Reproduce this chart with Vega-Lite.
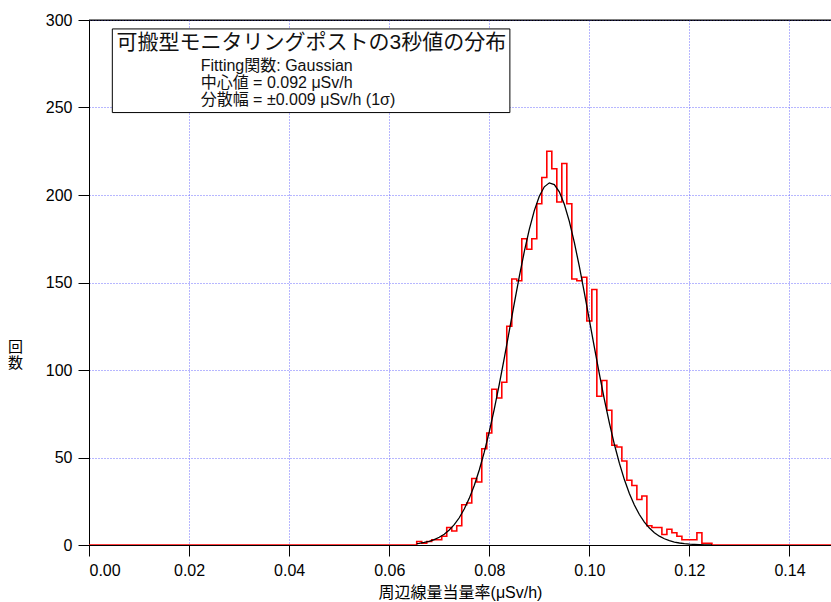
{
  "$schema": "https://vega.github.io/schema/vega-lite/v6.json",
  "width": 742,
  "height": 525,
  "autosize": {"type": "none"},
  "padding": {"left": 89, "top": 20, "right": 0, "bottom": 57},
  "background": "white",
  "datasets": {
    "hist": [
      {"rate": 0.0, "count": 0},
      {"rate": 0.065, "count": 0},
      {"rate": 0.066, "count": 2},
      {"rate": 0.067, "count": 1},
      {"rate": 0.068, "count": 2},
      {"rate": 0.069, "count": 3},
      {"rate": 0.070, "count": 3},
      {"rate": 0.071, "count": 5},
      {"rate": 0.072, "count": 10},
      {"rate": 0.073, "count": 8},
      {"rate": 0.074, "count": 11},
      {"rate": 0.075, "count": 23},
      {"rate": 0.076, "count": 24},
      {"rate": 0.077, "count": 38},
      {"rate": 0.078, "count": 36},
      {"rate": 0.079, "count": 55},
      {"rate": 0.080, "count": 64},
      {"rate": 0.081, "count": 89},
      {"rate": 0.082, "count": 84},
      {"rate": 0.083, "count": 93},
      {"rate": 0.084, "count": 125},
      {"rate": 0.085, "count": 152},
      {"rate": 0.086, "count": 151},
      {"rate": 0.087, "count": 175},
      {"rate": 0.088, "count": 169},
      {"rate": 0.089, "count": 175},
      {"rate": 0.090, "count": 195},
      {"rate": 0.091, "count": 210},
      {"rate": 0.092, "count": 225},
      {"rate": 0.093, "count": 215},
      {"rate": 0.094, "count": 196},
      {"rate": 0.095, "count": 218},
      {"rate": 0.096, "count": 195},
      {"rate": 0.097, "count": 152},
      {"rate": 0.098, "count": 151},
      {"rate": 0.099, "count": 153},
      {"rate": 0.100, "count": 128},
      {"rate": 0.101, "count": 146},
      {"rate": 0.102, "count": 85},
      {"rate": 0.103, "count": 94},
      {"rate": 0.104, "count": 77},
      {"rate": 0.105, "count": 57},
      {"rate": 0.106, "count": 56},
      {"rate": 0.107, "count": 48},
      {"rate": 0.108, "count": 37},
      {"rate": 0.109, "count": 34},
      {"rate": 0.110, "count": 26},
      {"rate": 0.111, "count": 28},
      {"rate": 0.112, "count": 11},
      {"rate": 0.113, "count": 10},
      {"rate": 0.114, "count": 10},
      {"rate": 0.115, "count": 6},
      {"rate": 0.116, "count": 9},
      {"rate": 0.117, "count": 7},
      {"rate": 0.118, "count": 5},
      {"rate": 0.119, "count": 3},
      {"rate": 0.120, "count": 3},
      {"rate": 0.121, "count": 3},
      {"rate": 0.122, "count": 7},
      {"rate": 0.123, "count": 1},
      {"rate": 0.124, "count": 1},
      {"rate": 0.125, "count": 0},
      {"rate": 0.150, "count": 0}
    ],
    "fit": [
      {"rate": 0.0655, "fit": 0.79},
      {"rate": 0.066, "fit": 0.97},
      {"rate": 0.067, "fit": 1.45},
      {"rate": 0.068, "fit": 2.13},
      {"rate": 0.069, "fit": 3.09},
      {"rate": 0.070, "fit": 4.41},
      {"rate": 0.071, "fit": 6.18},
      {"rate": 0.072, "fit": 8.54},
      {"rate": 0.073, "fit": 11.62},
      {"rate": 0.074, "fit": 15.56},
      {"rate": 0.075, "fit": 20.53},
      {"rate": 0.076, "fit": 26.65},
      {"rate": 0.077, "fit": 34.05},
      {"rate": 0.078, "fit": 42.85},
      {"rate": 0.079, "fit": 53.07},
      {"rate": 0.080, "fit": 64.71},
      {"rate": 0.081, "fit": 77.69},
      {"rate": 0.082, "fit": 91.83},
      {"rate": 0.083, "fit": 106.85},
      {"rate": 0.084, "fit": 122.42},
      {"rate": 0.085, "fit": 138.07},
      {"rate": 0.086, "fit": 153.30},
      {"rate": 0.087, "fit": 167.59},
      {"rate": 0.088, "fit": 180.36},
      {"rate": 0.089, "fit": 191.08},
      {"rate": 0.090, "fit": 199.32},
      {"rate": 0.091, "fit": 204.68},
      {"rate": 0.092, "fit": 206.94},
      {"rate": 0.093, "fit": 205.97},
      {"rate": 0.094, "fit": 201.83},
      {"rate": 0.095, "fit": 194.70},
      {"rate": 0.096, "fit": 184.92},
      {"rate": 0.097, "fit": 172.91},
      {"rate": 0.098, "fit": 159.16},
      {"rate": 0.099, "fit": 144.24},
      {"rate": 0.100, "fit": 128.69},
      {"rate": 0.101, "fit": 113.04},
      {"rate": 0.102, "fit": 97.75},
      {"rate": 0.103, "fit": 83.21},
      {"rate": 0.104, "fit": 69.76},
      {"rate": 0.105, "fit": 57.55},
      {"rate": 0.106, "fit": 46.76},
      {"rate": 0.107, "fit": 37.38},
      {"rate": 0.108, "fit": 29.43},
      {"rate": 0.109, "fit": 22.83},
      {"rate": 0.110, "fit": 17.41},
      {"rate": 0.111, "fit": 13.08},
      {"rate": 0.112, "fit": 9.68},
      {"rate": 0.113, "fit": 7.05},
      {"rate": 0.114, "fit": 5.05},
      {"rate": 0.115, "fit": 3.57},
      {"rate": 0.116, "fit": 2.48},
      {"rate": 0.117, "fit": 1.69},
      {"rate": 0.118, "fit": 1.14},
      {"rate": 0.119, "fit": 0.76},
      {"rate": 0.120, "fit": 0.49},
      {"rate": 0.121, "fit": 0.32},
      {"rate": 0.122, "fit": 0.20},
      {"rate": 0.123, "fit": 0.12},
      {"rate": 0.124, "fit": 0.07},
      {"rate": 0.1245, "fit": 0.06}
    ]
  },
  "layer": [
    {
      "data": {"values": [{"box": "legend"}]},
      "mark": {"type": "rect", "fill": "white", "stroke": "black", "strokeWidth": 1},
      "encoding": {
        "x": {"datum": 0.00466, "type": "quantitative", "scale": {"domain": [0, 0.1483], "nice": false, "zero": false}},
        "x2": {"datum": 0.08412},
        "y": {"datum": 294.9, "type": "quantitative", "scale": {"domain": [0, 300], "nice": false}},
        "y2": {"datum": 247.1}
      }
    },
    {
      "data": {"values": [{"label": "可搬型モニタリングポストの3秒値の分布"}]},
      "mark": {"type": "text", "align": "left", "baseline": "alphabetic", "fontSize": 21, "font": "Liberation Sans, Noto Sans CJK JP", "color": "#111111"},
      "encoding": {
        "x": {"datum": 0.0055, "type": "quantitative"},
        "y": {"datum": 283.4, "type": "quantitative"},
        "text": {"field": "label"}
      }
    },
    {
      "data": {"values": [{"label": "Fitting関数: Gaussian\n中心値 = 0.092 μSv/h\n分散幅 = ±0.009 μSv/h (1σ)"}]},
      "mark": {"type": "text", "align": "left", "baseline": "alphabetic", "fontSize": 16, "lineHeight": 17, "lineBreak": "\n", "font": "Liberation Sans, Noto Sans CJK JP", "color": "#111111"},
      "encoding": {
        "x": {"datum": 0.02232, "type": "quantitative"},
        "y": {"datum": 271.1, "type": "quantitative"},
        "text": {"field": "label"}
      }
    },
    {
      "data": {"name": "hist"},
      "mark": {"type": "line", "interpolate": "step", "color": "#ff0000", "strokeWidth": 1.6, "clip": true},
      "encoding": {
        "x": {
          "field": "rate", "type": "quantitative",
          "scale": {"domain": [0, 0.1483], "nice": false, "zero": false},
          "axis": {
            "values": [0, 0.02, 0.04, 0.06, 0.08, 0.1, 0.12, 0.14],
            "format": ".2f",
            "title": "周辺線量当量率(μSv/h)",
            "grid": true,
            "labelPadding": 6,
            "titlePadding": 6
          }
        },
        "y": {
          "field": "count", "type": "quantitative",
          "scale": {"domain": [0, 300], "nice": false},
          "axis": {
            "values": [0, 50, 100, 150, 200, 250, 300],
            "title": ["回", "数"],
            "titleAngle": 0,
            "titleX": -74,
            "titleY": 326,
            "titleAlign": "center",
            "titleBaseline": "middle",
            "titleLineHeight": 16,
            "titleFontSize": 15,
            "grid": true,
            "labelPadding": 6
          }
        }
      }
    },
    {
      "data": {"name": "fit"},
      "mark": {"type": "line", "color": "black", "strokeWidth": 1.3, "clip": true},
      "encoding": {
        "x": {"field": "rate", "type": "quantitative"},
        "y": {"field": "fit", "type": "quantitative"}
      }
    },
    {
      "data": {"values": [{"frame": "top"}]},
      "mark": {"type": "rule", "color": "black", "strokeWidth": 1},
      "encoding": {
        "y": {"datum": 300, "type": "quantitative"}
      }
    }
  ],
  "config": {
    "view": {"stroke": "black", "strokeWidth": 1},
    "axis": {
      "domainColor": "black",
      "domainWidth": 1,
      "tickColor": "black",
      "tickSize": 11,
      "labelColor": "black",
      "titleColor": "black",
      "labelFont": "Liberation Sans, Noto Sans CJK JP",
      "titleFont": "Liberation Sans, Noto Sans CJK JP",
      "labelFontSize": 16,
      "titleFontSize": 16,
      "titleFontWeight": "normal",
      "gridColor": "#6e6eff",
      "gridDash": [1, 2],
      "gridWidth": 1
    }
  }
}
